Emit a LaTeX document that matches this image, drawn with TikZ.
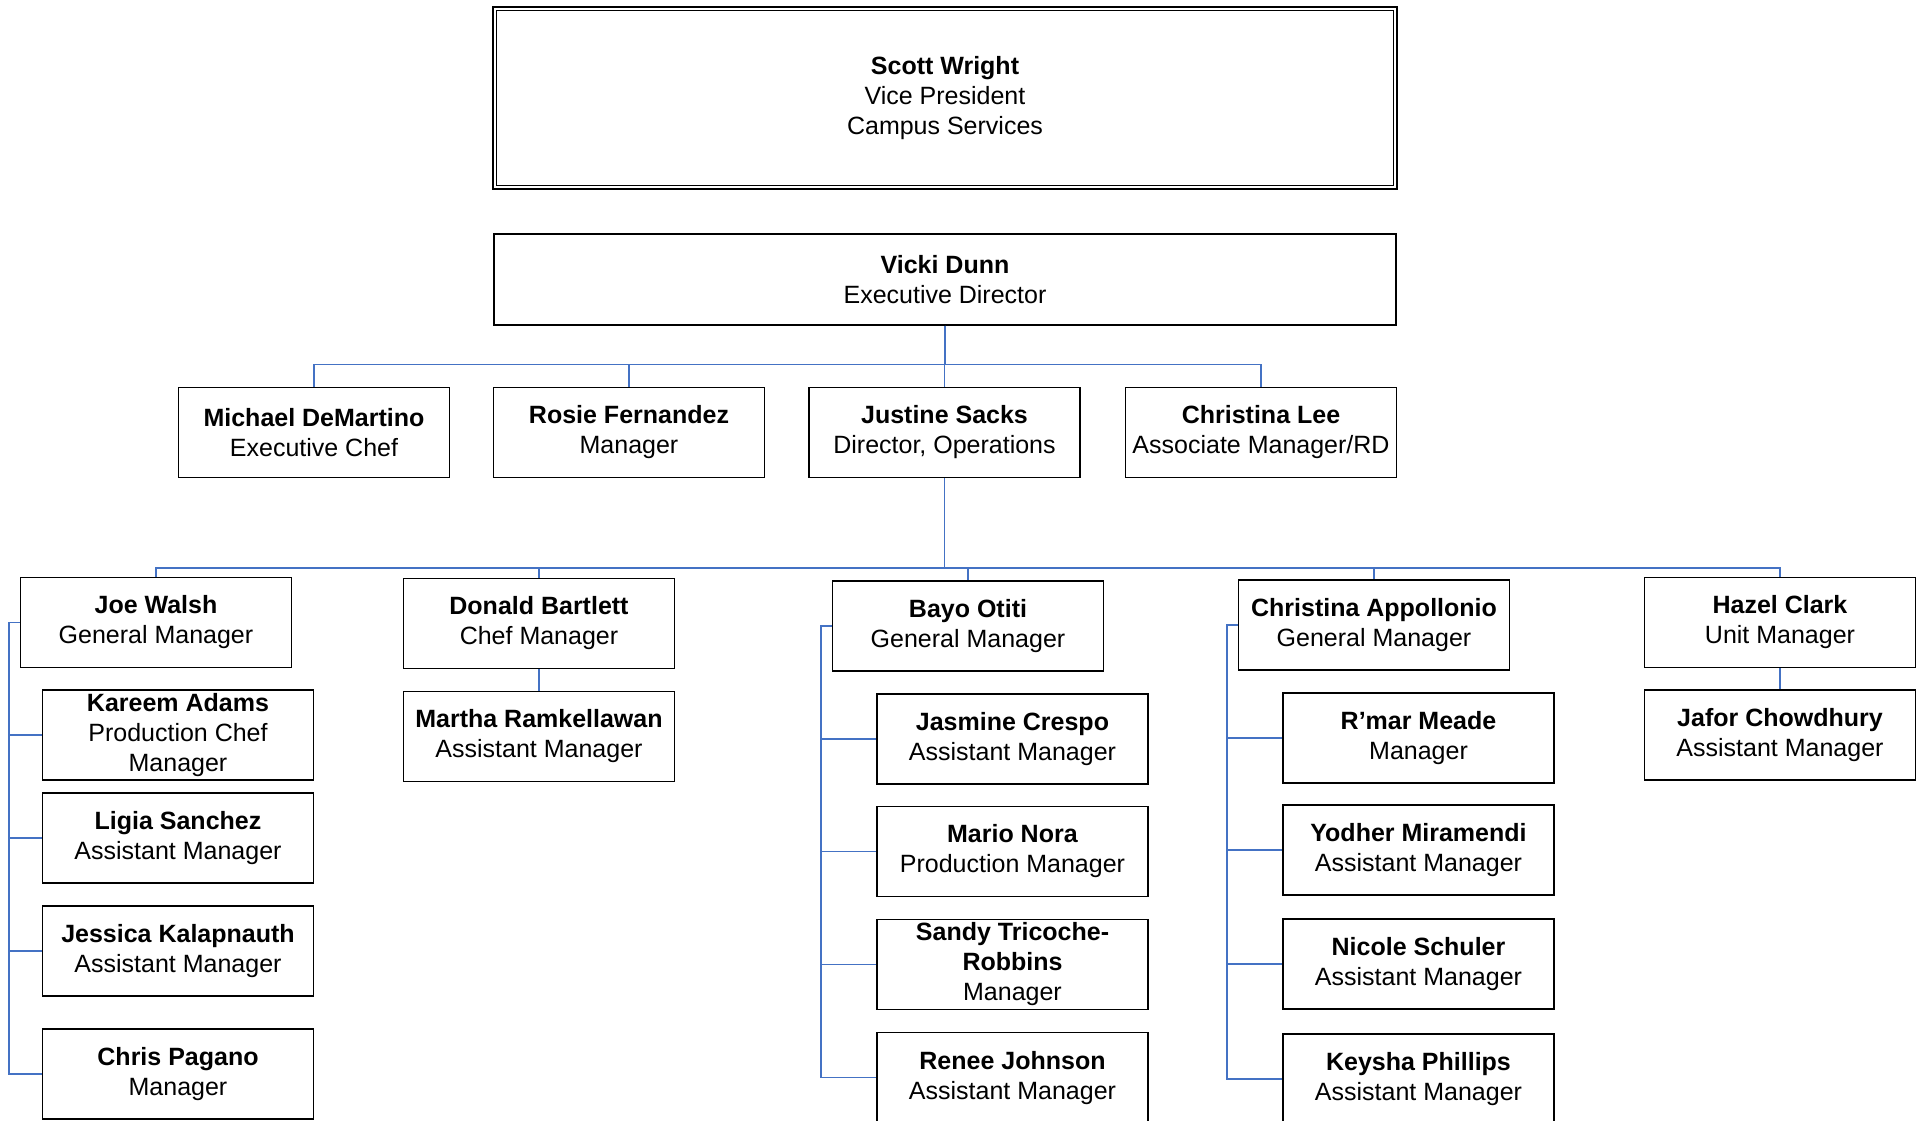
\documentclass[tikz,border=0pt]{standalone}
\usepackage{fontspec}
\setmainfont{Liberation Sans}
\usepackage{tikz}
\usetikzlibrary{positioning, calc}
\definecolor{linkblue}{RGB}{68, 114, 196}

\begin{document}
\begin{tikzpicture}[x=0.5pt, y=-0.5pt,
    box/.style={draw=black, line width=0.65pt, fill=white, minimum width=135.5pt,
                minimum height=45pt, inner sep=0pt, align=center,
                font=\fontsize{12.5}{15}\selectfont},
    link/.style={draw=linkblue, line width=0.8pt}]
    \useasboundingbox (0,0) rectangle (1923,1120);

    % Top of the chart
    \node[box, line width=1.25pt, minimum width=452pt, minimum height=91pt] (scott) at (945,98)
        {\textbf{Scott Wright}\\Vice President\\Campus Services};
    \draw[line width=0.65pt] ([xshift=2.5pt,yshift=-2.5pt]scott.north west)
        rectangle ([xshift=-2.5pt,yshift=2.5pt]scott.south east);
    \node[box, minimum width=451pt, minimum height=45.5pt] (vicki) at (945,279.5)
        {\textbf{Vicki Dunn}\\Executive Director};

    % Direct reports of the executive director
    \node[box] (michael) at (314,432.5) {\textbf{Michael DeMartino}\\Executive Chef};
    \node[box] (rosie) at (629,432.5) {\textbf{Rosie Fernandez}\\Manager};
    \node[box] (justine) at (944.5,432.5) {\textbf{Justine Sacks}\\Director, Operations};
    \node[box] (lee) at (1261,432.5) {\textbf{Christina Lee}\\Associate Manager/RD};
    \foreach \n in {michael,rosie,justine,lee} {
        \draw[link] (vicki.south) -- ++(0,39) -| (\n.north);
    }

    % Units under operations
    \node[box] (joe) at (156,622.5) {\textbf{Joe Walsh}\\General Manager};
    \node[box] (donald) at (539,623.5) {\textbf{Donald Bartlett}\\Chef Manager};
    \node[box] (bayo) at (968,626) {\textbf{Bayo Otiti}\\General Manager};
    \node[box] (appollonio) at (1374,625) {\textbf{Christina Appollonio}\\General Manager};
    \node[box] (hazel) at (1780,622.5) {\textbf{Hazel Clark}\\Unit Manager};
    \foreach \n in {joe,donald,bayo,appollonio,hazel} {
        \draw[link] (justine.south) -- ++(0,90) -| (\n.north);
    }

    % Staff of each unit
    \foreach \n/\yy/\txt in {kareem/735/{\textbf{Kareem Adams}\\Production Chef\\Manager},
            ligia/838/{\textbf{Ligia Sanchez}\\Assistant Manager},
            jessica/951/{\textbf{Jessica Kalapnauth}\\Assistant Manager},
            chris/1074/{\textbf{Chris Pagano}\\Manager}} {
        \node[box] (\n) at (178,\yy) {\txt};
        \draw[link] (joe.west) -- ++(-11,0) |- (\n.west);
    }
    \node[box] (martha) at (539,736.5) {\textbf{Martha Ramkellawan}\\Assistant Manager};
    \draw[link] (donald.south) -- (martha.north);

    \foreach \n/\yy/\txt in {jasmine/739/{\textbf{Jasmine Crespo}\\Assistant Manager},
            mario/851.5/{\textbf{Mario Nora}\\Production Manager},
            sandy/964.5/{\textbf{Sandy Tricoche-}\\\textbf{Robbins}\\Manager},
            renee/1077.6/{\textbf{Renee Johnson}\\Assistant Manager}} {
        \node[box] (\n) at (1012.5,\yy) {\txt};
        \draw[link] (bayo.west) -- ++(-11,0) |- (\n.west);
    }

    \foreach \n/\yy/\txt in {rmar/738/{\textbf{R’mar Meade}\\Manager},
            yodher/850/{\textbf{Yodher Miramendi}\\Assistant Manager},
            nicole/964/{\textbf{Nicole Schuler}\\Assistant Manager},
            keysha/1079/{\textbf{Keysha Phillips}\\Assistant Manager}} {
        \node[box] (\n) at (1418.5,\yy) {\txt};
        \draw[link] (appollonio.west) -- ++(-11,0) |- (\n.west);
    }

    \node[box] (jafor) at (1780,735) {\textbf{Jafor Chowdhury}\\Assistant Manager};
    \draw[link] (hazel.south) -- (jafor.north);
\end{tikzpicture}
\end{document}
